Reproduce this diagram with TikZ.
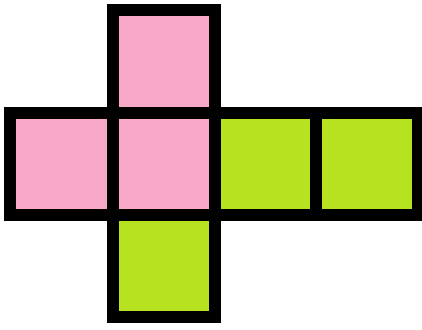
\documentclass[tikz,border=0pt]{standalone}
\begin{document}
\begin{tikzpicture}[x=1pt,y=-1pt,
  face/.style={draw=black,line width=12pt,line join=miter},
  pinkface/.style={face,fill=pinkc},
  greenface/.style={face,fill=greenc}]
\definecolor{pinkc}{RGB}{248,168,199}
\definecolor{greenc}{RGB}{182,226,32}
\useasboundingbox (0,0) rectangle (422,329);
\fill[white] (0,0) rectangle (422,329);
% top
\draw[pinkface] (113,10) rectangle (215,112.5);
% middle row
\draw[pinkface] (10,112.5) rectangle (113,215);
\draw[pinkface] (113,112.5) rectangle (215,215);
\draw[greenface] (215,112.5) rectangle (316,215);
\draw[greenface] (316,112.5) rectangle (418,215);
% bottom
\draw[greenface] (113,215) rectangle (215,317);
\end{tikzpicture}
\end{document}
